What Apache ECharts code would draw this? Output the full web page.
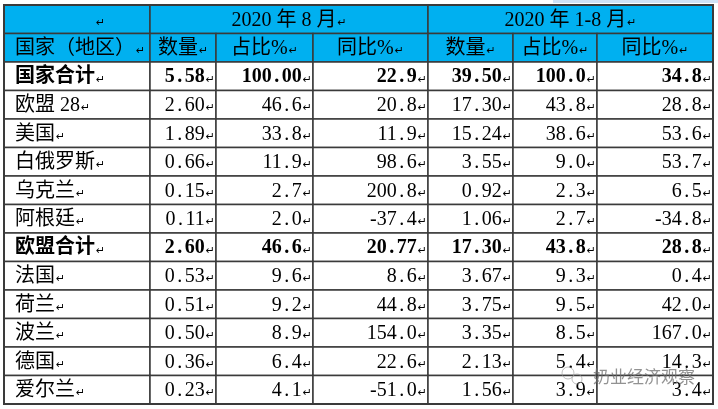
<!DOCTYPE html>
<html>
<head>
<meta charset="utf-8">
<script src="https://cdn.jsdelivr.net/npm/echarts@6/dist/echarts.min.js"></script>
<style>
  html, body { margin: 0; padding: 0; background: #fff; }
  #chart { width: 718px; height: 409px; }
</style>
</head>
<body>
<div id="chart"></div>
<script>
// 表头
var periods = ['2020 年 8 月', '2020 年 1-8 月'];
var colHeaders = ['国家（地区）', '数量', '占比%', '同比%', '数量', '占比%', '同比%'];
// 行
var regions = ['国家合计', '欧盟 28', '美国', '白俄罗斯', '乌克兰', '阿根廷', '欧盟合计', '法国', '荷兰', '波兰', '德国', '爱尔兰'];
var totalRows = ['国家合计', '欧盟合计'];
// 2020年8月
var augQty = ['5.58', '2.60', '1.89', '0.66', '0.15', '0.11', '2.60', '0.53', '0.51', '0.50', '0.36', '0.23'];
var augShare = ['100.00', '46.6', '33.8', '11.9', '2.7', '2.0', '46.6', '9.6', '9.2', '8.9', '6.4', '4.1'];
var augYoy = ['22.9', '20.8', '11.9', '98.6', '200.8', '-37.4', '20.77', '8.6', '44.8', '154.0', '22.6', '-51.0'];
// 2020年1-8月
var ytdQty = ['39.50', '17.30', '15.24', '3.55', '0.92', '1.06', '17.30', '3.67', '3.75', '3.35', '2.13', '1.56'];
var ytdShare = ['100.0', '43.8', '38.6', '9.0', '2.3', '2.7', '43.8', '9.3', '9.5', '8.5', '5.4', '3.9'];
var ytdYoy = ['34.8', '28.8', '53.6', '53.7', '6.5', '-34.8', '28.8', '0.4', '42.0', '167.0', '14.3', '3.4'];

var FONT = '"Liberation Serif", "Noto Sans CJK SC", serif';
var HEAD_BG = '#00b0f0';
var LINE = '#3a3a3a';
// 列边界，只是版面用
var colEdges = [0, 146, 212, 309, 424, 509, 593, 709];
var rowCount = regions.length + 2;

// 拼出所有单元格
var cells = [];
cells.push({ c0: 0, c1: 1, row: 0, text: '', head: true, align: 'center' });
cells.push({ c0: 1, c1: 4, row: 0, text: periods[0], head: true, align: 'center' });
cells.push({ c0: 4, c1: 7, row: 0, text: periods[1], head: true, align: 'center' });
colHeaders.forEach(function (h, i) {
  cells.push({ c0: i, c1: i + 1, row: 1, text: h, head: true, align: i === 0 ? 'left' : 'center' });
});
var columns = [augQty, augShare, augYoy, ytdQty, ytdShare, ytdYoy];
regions.forEach(function (name, r) {
  var bold = totalRows.indexOf(name) >= 0;
  cells.push({ c0: 0, c1: 1, row: r + 2, text: name, bold: bold, align: 'left' });
  columns.forEach(function (col, k) {
    cells.push({ c0: k + 1, c1: k + 2, row: r + 2, text: col[r], bold: bold, align: 'right', num: true });
  });
});
// 外框
cells.push({ frame: true, c0: 0, c1: 7, row: 0 });

function richText(cell) {
  var b = cell.bold ? 'b' : '';
  if (!cell.num) {
    return (cell.text ? '{t' + b + '|' + cell.text + '}' : '') + '{m|↵}';
  }
  var s = cell.text, i = s.indexOf('.');
  var out = i < 0 ? '{t' + b + '|' + s + '}'
    : '{t' + b + '|' + s.slice(0, i) + '}{p' + b + '|.}{t' + b + '|' + s.slice(i + 1) + '}';
  return out + '{m|↵}';
}

var rich = {
  t: { fontFamily: FONT, fontSize: 20, color: '#2b2b2b' },
  tb: { fontFamily: FONT, fontSize: 20, fontWeight: 'bold', color: '#000' },
  p: { fontFamily: FONT, fontSize: 20, color: '#2b2b2b', width: 10, align: 'left' },
  pb: { fontFamily: FONT, fontSize: 20, fontWeight: 'bold', color: '#000', width: 10, align: 'left' },
  m: { fontFamily: 'DejaVu Sans', fontSize: 11, color: '#a8a8a8', padding: [5, 0, 0, 1] }
};

function renderItem(params, api) {
  var cell = cells[params.dataIndex];
  var h = api.size([0, 1])[1];
  if (cell.frame) {
    var a = api.coord([api.value(0), 0]);
    var b = api.coord([api.value(2), rowCount - 1]);
    return {
      type: 'rect',
      shape: { x: a[0], y: a[1] - h / 2, width: b[0] - a[0], height: b[1] - a[1] + h },
      style: { fill: null, stroke: LINE, lineWidth: 2 }
    };
  }
  var p0 = api.coord([api.value(0), api.value(1)]);
  var p1 = api.coord([api.value(2), api.value(1)]);
  var x = p0[0], w = p1[0] - p0[0], y = p0[1] - h / 2;
  var tx = cell.align === 'left' ? x + 11 : cell.align === 'right' ? x + w - 1 : x + w / 2;
  if (!cell.text) tx = x + w / 2 + 23;
  return {
    type: 'group',
    children: [{
      type: 'rect',
      shape: { x: x, y: y, width: w, height: h },
      style: { fill: cell.head ? HEAD_BG : '#fff', stroke: LINE, lineWidth: 1.5 }
    }, {
      type: 'text',
      style: {
        x: tx, y: p0[1] + 1,
        text: richText(cell),
        rich: rich,
        align: cell.align,
        verticalAlign: 'middle'
      }
    }]
  };
}

var chart = echarts.init(document.getElementById('chart'));
chart.setOption({
  animation: false,
  grid: { left: 4, right: 5, top: 5, bottom: 5 },
  xAxis: { type: 'value', min: 0, max: colEdges[colEdges.length - 1], show: false },
  yAxis: {
    type: 'category', inverse: true, show: false,
    data: Array.apply(null, { length: rowCount }).map(function (_, i) { return i; })
  },
  graphic: [
    { type: 'rect', shape: { x: 553, y: 0, width: 165, height: 3 }, style: { fill: '#cfe2f6' } },
    {
      type: 'text', x: 593, y: 368, z: 100,
      style: { text: '奶业经济观察', font: '17px "Noto Sans CJK SC"', fill: 'rgba(110,110,110,0.75)' }
    },
    {
      type: 'circle', shape: { cx: 568, cy: 373, r: 6 }, z: 100,
      style: { fill: null, stroke: 'rgba(150,150,150,0.6)', lineWidth: 1 }
    },
    {
      type: 'circle', shape: { cx: 577, cy: 379, r: 5 }, z: 100,
      style: { fill: null, stroke: 'rgba(150,150,150,0.6)', lineWidth: 1 }
    }
  ],
  series: [{
    type: 'custom',
    renderItem: renderItem,
    encode: { x: [0, 2], y: 1 },
    data: cells.map(function (c) { return [colEdges[c.c0], c.row, colEdges[c.c1]]; })
  }]
});
</script>
</body>
</html>
